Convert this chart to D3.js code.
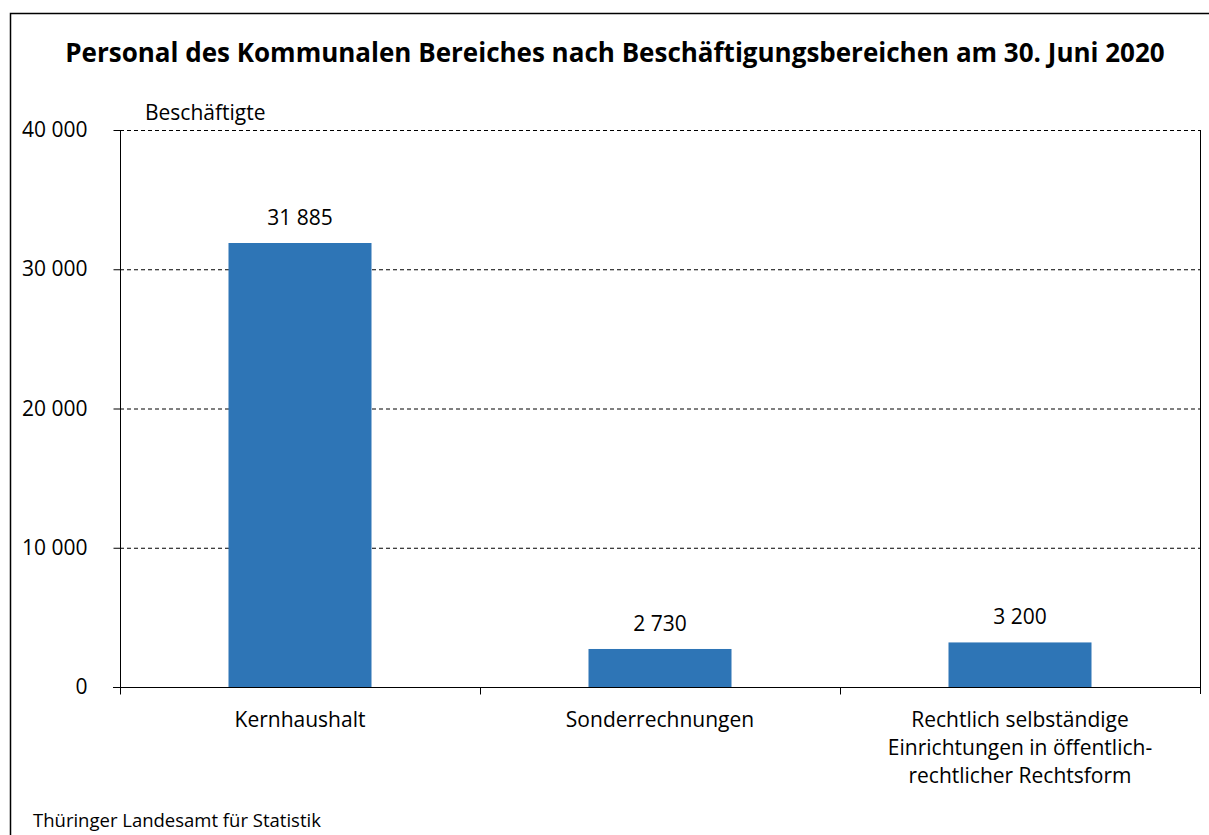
<!DOCTYPE html>
<html><head><meta charset="utf-8">
<script src="https://cdn.jsdelivr.net/npm/d3@7"></script>
<style>body{margin:0;background:#fff}svg{display:block}text{font-family:"Open Sans","Noto Sans",sans-serif;fill:#000}</style>
</head><body>
<svg id="c" width="1209" height="835"></svg>
<script>
const categories = [["Kernhaushalt"],["Sonderrechnungen"],["Rechtlich selbständige","Einrichtungen in öffentlich-","rechtlicher Rechtsform"]];
const values = [31885, 2730, 3200];
const valueLabels = ["31 885","2 730","3 200"];
const yTicks = [0,10000,20000,30000,40000];
const yTickLabels = ["0","10 000","20 000","30 000","40 000"];
const title = "Personal des Kommunalen Bereiches nach Beschäftigungsbereichen am 30. Juni 2020";

const FONT = "'Open Sans','Noto Sans',sans-serif";
const FS = "21px";
const svg = d3.select("#c");
const L=120,R=1200,T=130,B=687;
svg.append("rect").attr("x",10.5).attr("y",13.5).attr("width",1300).attr("height",900).attr("fill","none").attr("stroke","#000").attr("stroke-width",1.5);

const x = d3.scaleBand().domain(d3.range(values.length)).range([L,R]).paddingInner(0).paddingOuter(0);
const y = d3.scaleLinear().domain([0,40000]).range([B,T]);

svg.append("g").selectAll("line").data(yTicks.filter(d=>d>0)).join("line")
 .attr("x1",L).attr("x2",R).attr("y1",d=>y(d)+0.5).attr("y2",d=>y(d)+0.5)
 .attr("stroke","#000").attr("stroke-width",1).attr("stroke-dasharray","4,3");

const bw = 143;
svg.append("g").selectAll("rect").data(values).join("rect")
 .attr("x",(d,i)=>x(i)+x.bandwidth()/2-bw/2).attr("width",bw)
 .attr("y",d=>y(d)).attr("height",d=>B-y(d)).attr("fill","#2e75b6");

svg.append("line").attr("x1",R+0.5).attr("x2",R+0.5).attr("y1",T).attr("y2",B+7).attr("stroke","#000");

const ya = svg.append("g").attr("transform",`translate(${L+0.5},0)`).call(d3.axisLeft(y).tickValues(yTicks).tickSize(7).tickPadding(26).tickFormat((d,i)=>yTickLabels[i]));
ya.select(".domain").remove();
ya.append("line").attr("y1",T).attr("y2",B).attr("stroke","#000");
ya.selectAll("text").style("font-size",FS).style("font-family",FONT).attr("fill","#000");

const xa = svg.append("g").attr("transform",`translate(0,${B+0.5})`);
xa.append("line").attr("x1",L-7).attr("x2",R).attr("stroke","#000");
xa.selectAll("line.t").data(d3.range(values.length)).join("line").attr("class","t")
 .attr("x1",i=>x(i)+0.5).attr("x2",i=>x(i)+0.5).attr("y1",0).attr("y2",7).attr("stroke","#000");

svg.append("g").selectAll("text").data(categories).join("text")
 .attr("x",(d,i)=>x(i)+x.bandwidth()/2).attr("y",727).attr("text-anchor","middle").style("font-size",FS)
 .selectAll("tspan").data(d=>d).join("tspan").attr("x",function(){return this.parentNode.getAttribute("x");}).attr("dy",(d,j)=>j?28:0).text(d=>d);

svg.append("g").selectAll("text").data(values).join("text")
 .attr("x",(d,i)=>x(i)+x.bandwidth()/2).attr("y",d=>y(d)-18).attr("text-anchor","middle").style("font-size",FS)
 .text((d,i)=>valueLabels[i]);

svg.append("text").attr("x",615).attr("y",62).attr("text-anchor","middle").style("font-size","26px").style("font-weight","bold").text(title);
svg.append("text").attr("x",145).attr("y",120).style("font-size",FS).text("Beschäftigte");
svg.append("text").attr("x",33).attr("y",827).style("font-size","18.5px").text("Thüringer Landesamt für Statistik");
</script>
</body></html>
